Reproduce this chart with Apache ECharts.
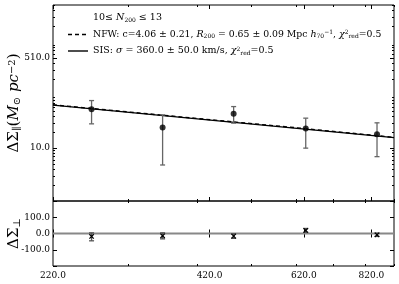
<!DOCTYPE html>
<html><head><meta charset="utf-8">
<script src="https://cdn.jsdelivr.net/npm/echarts@6/dist/echarts.min.js"></script>
<style>html,body{margin:0;padding:0;background:#fff}#c{width:399px;height:284px}</style>
</head><body><div id="c"></div>
<script>
// ---- data ----
const radii        = [258, 346, 464, 625, 839];
const sigmaPar     = [54.6, 24.5, 44.5, 23.5, 18.4];
const sigmaParLo   = [28.8, 4.8, 29.7, 10.0, 6.9];
const sigmaParHi   = [79.4, 42.6, 61.1, 36.9, 30.1];
const sigmaPerp    = [-18, -14, -16, 19, -8];
const sigmaPerpLo  = [-45, -33, -30, 7, -18];
const sigmaPerpHi  = [4, 4, -2, 31, 2];
const sisR   = [220, 900];
const sisFit = [65.0, 15.8];
const nfwR   = [220, 400, 600, 900];
const nfwFit = [66.0, 36.3, 24.3, 16.0];
const zeroR    = [220, 900];
const zeroLine = [0, 0];
const xTickLabels   = [220, 420, 620, 820];
const xMinorTicks   = [300, 400, 500, 600, 700, 800, 900];
const yTickLabels   = [10, 510];
const yMinorTicks   = [2,3,4,5,6,7,8,9,20,30,40,50,60,70,80,90,200,300,400,500,600,700,800,900,2000,3000,4000,5000];
const perpTickLabels = [-100, 0, 100];
const perpTicks      = [-200, -100, 0, 100, 200];

const FONT = 'DejaVu Serif';
const X_MIN = 220, X_MAX = 900, Y_MIN = 1, Y_MAX = 5100, P_MIN = -200, P_MAX = 200;
const fmt = v => Number(v).toFixed(1);

function xAx(grid, pos, ticks, len, labels) {
  return {
    type: 'log', logBase: 10, gridIndex: grid, position: pos, min: X_MIN, max: X_MAX,
    axisLine: { show: false }, splitLine: { show: false },
    axisTick: { show: true, inside: true, length: len, customValues: ticks, lineStyle: { color: '#000', width: 1 } },
    axisLabel: labels ? { show: true, customValues: labels, formatter: fmt, color: '#000', fontFamily: FONT, fontSize: 9, margin: 5 } : { show: false }
  };
}
function yLog(pos, ticks, len, labels, name) {
  const a = {
    type: 'log', logBase: 10, gridIndex: 0, position: pos, min: Y_MIN, max: Y_MAX,
    axisLine: { show: false }, splitLine: { show: false },
    axisTick: { show: true, inside: true, length: len, customValues: ticks, lineStyle: { color: '#000', width: 1 } },
    axisLabel: labels ? { show: true, customValues: labels, formatter: fmt, color: '#000', fontFamily: FONT, fontSize: 9, margin: 3 } : { show: false }
  };
  if (name) Object.assign(a, name);
  return a;
}
function yLin(pos, labels, name) {
  const a = {
    type: 'value', gridIndex: 1, position: pos, min: P_MIN, max: P_MAX,
    axisLine: { show: false }, splitLine: { show: false },
    axisTick: { show: true, inside: true, length: 4, customValues: perpTicks, lineStyle: { color: '#000', width: 1 } },
    axisLabel: labels ? { show: true, customValues: labels, formatter: fmt, color: '#000', fontFamily: FONT, fontSize: 9, margin: 3 } : { show: false }
  };
  if (name) Object.assign(a, name);
  return a;
}

const sub = { fontFamily: FONT, fontSize: 6, verticalAlign: 'bottom', lineHeight: 6, color: '#000' };
const sup = { fontFamily: FONT, fontSize: 6, verticalAlign: 'top', lineHeight: 6, color: '#000' };
const it  = { fontFamily: FONT, fontStyle: 'italic', fontSize: 9.5, color: '#000' };
const legendRich = { sub: sub, sup: sup, i: it };

const titleRich = {
  sub: { fontFamily: FONT, fontSize: 10, verticalAlign: 'bottom', lineHeight: 10, color: '#000' },
  sup: { fontFamily: FONT, fontSize: 10, verticalAlign: 'top', lineHeight: 10, color: '#000' },
  i:   { fontFamily: FONT, fontStyle: 'italic', fontSize: 15, color: '#000' }
};

const parPts = radii.map((r, i) => [r, sigmaPar[i]]);
const parErr = radii.map((r, i) => [r, sigmaPar[i], sigmaParLo[i], sigmaParHi[i]]);
const perpErr = radii.map((r, i) => [r, sigmaPerp[i], sigmaPerpLo[i], sigmaPerpHi[i]]);

function errRender(color, cap, marker) {
  return function (params, api) {
    const x = api.value(0);
    const c = api.coord([x, api.value(1)]);
    const lo = api.coord([x, api.value(2)]);
    const hi = api.coord([x, api.value(3)]);
    const st = { stroke: color, lineWidth: 1.3 };
    const ch = [
      { type: 'line', shape: { x1: lo[0], y1: lo[1], x2: hi[0], y2: hi[1] }, style: st },
      { type: 'line', shape: { x1: hi[0] - cap, y1: hi[1], x2: hi[0] + cap, y2: hi[1] }, style: st },
      { type: 'line', shape: { x1: lo[0] - cap, y1: lo[1], x2: lo[0] + cap, y2: lo[1] }, style: st }
    ];
    if (marker) {
      const s = 2.2, ms = { stroke: '#000', lineWidth: 1.2 };
      ch.push({ type: 'line', shape: { x1: c[0] - s, y1: c[1] - s, x2: c[0] + s, y2: c[1] + s }, style: ms });
      ch.push({ type: 'line', shape: { x1: c[0] - s, y1: c[1] + s, x2: c[0] + s, y2: c[1] - s }, style: ms });
    }
    return { type: 'group', children: ch };
  };
}

const chart = echarts.init(document.getElementById('c'));
chart.setOption({
  animation: false,
  backgroundColor: '#fff',
  grid: [
    { left: 53, top: 5, right: 5, height: 196, show: true, borderColor: '#000', borderWidth: 1, backgroundColor: 'transparent', containLabel: false, outerBoundsMode: 'none' },
    { left: 53, top: 201, right: 5, height: 65, show: true, borderColor: '#000', borderWidth: 1, backgroundColor: 'transparent', containLabel: false, outerBoundsMode: 'none' }
  ],
  xAxis: [
    xAx(0, 'bottom', xTickLabels, 4, null),
    xAx(0, 'top', xTickLabels, 4, null),
    xAx(0, 'bottom', xMinorTicks, 2, null),
    xAx(0, 'top', xMinorTicks, 2, null),
    xAx(1, 'bottom', xTickLabels, 4, xTickLabels),
    xAx(1, 'top', xTickLabels, 4, null),
    xAx(1, 'bottom', xMinorTicks, 2, null),
    xAx(1, 'top', xMinorTicks, 2, null)
  ],
  yAxis: [
    yLog('left', yTickLabels, 4, yTickLabels, {
      name: 'ΔΣ{sub|∥}({i|M}{sub|⊙} {i|pc}{sup|−2})', nameLocation: 'middle', nameGap: 31, nameMoveOverlap: false,
      nameTextStyle: { fontFamily: FONT, fontSize: 15, color: '#000', rich: titleRich }
    }),
    yLog('right', yTickLabels, 4, null),
    yLog('left', yMinorTicks, 2, null),
    yLog('right', yMinorTicks, 2, null),
    yLin('left', perpTickLabels, {
      name: 'ΔΣ{sub|⊥}', nameLocation: 'middle', nameGap: 31, nameMoveOverlap: false,
      nameTextStyle: { fontFamily: FONT, fontSize: 15, color: '#000', rich: titleRich }
    }),
    yLin('right', null)
  ],
  series: [
    { type: 'line', xAxisIndex: 0, yAxisIndex: 0, data: nfwR.map((r, i) => [r, nfwFit[i]]), symbol: 'none',
      lineStyle: { color: '#000', width: 1.4, type: [4, 3] }, z: 2 },
    { type: 'line', xAxisIndex: 0, yAxisIndex: 0, data: sisR.map((r, i) => [r, sisFit[i]]), symbol: 'none',
      lineStyle: { color: '#000', width: 1.2 }, z: 3 },
    { type: 'custom', xAxisIndex: 0, yAxisIndex: 0, data: parErr, renderItem: errRender('#666', 2.5, false), z: 4 },
    { type: 'scatter', xAxisIndex: 0, yAxisIndex: 0, data: parPts, symbol: 'circle', symbolSize: 6,
      itemStyle: { color: '#000' }, z: 5 },
    { type: 'line', xAxisIndex: 4, yAxisIndex: 4, data: zeroR.map((r, i) => [r, zeroLine[i]]), symbol: 'none',
      lineStyle: { color: '#888', width: 2 }, z: 2 },
    { type: 'custom', xAxisIndex: 4, yAxisIndex: 4, data: perpErr, renderItem: errRender('#555', 2.5, true), z: 4 }
  ],
  graphic: [
    { type: 'text', x: 93, y: 18, style: { text: '10≤ {i|N}{sub|200} ≤ 13', rich: legendRich, fontFamily: FONT, fontSize: 9.5, fill: '#000', verticalAlign: 'middle' } },
    { type: 'line', shape: { x1: 68, y1: 34.5, x2: 88, y2: 34.5 }, style: { stroke: '#000', lineWidth: 1.4, lineDash: [4, 3] } },
    { type: 'text', x: 93, y: 34.5, style: { text: 'NFW: c=4.06 ± 0.21, {i|R}{sub|200} = 0.65 ± 0.09 Mpc {i|h}{sub|70}{sup|−1}, {i|χ}{sup|2}{sub|red}=0.5', rich: legendRich, fontFamily: FONT, fontSize: 9.3, fill: '#000', verticalAlign: 'middle' } },
    { type: 'line', shape: { x1: 68, y1: 51, x2: 88, y2: 51 }, style: { stroke: '#000', lineWidth: 1.4 } },
    { type: 'text', x: 93, y: 51, style: { text: 'SIS: {i|σ} = 360.0 ± 50.0 km/s, {i|χ}{sup|2}{sub|red}=0.5', rich: legendRich, fontFamily: FONT, fontSize: 9.5, fill: '#000', verticalAlign: 'middle' } }
  ]
});
</script>
</body></html>
